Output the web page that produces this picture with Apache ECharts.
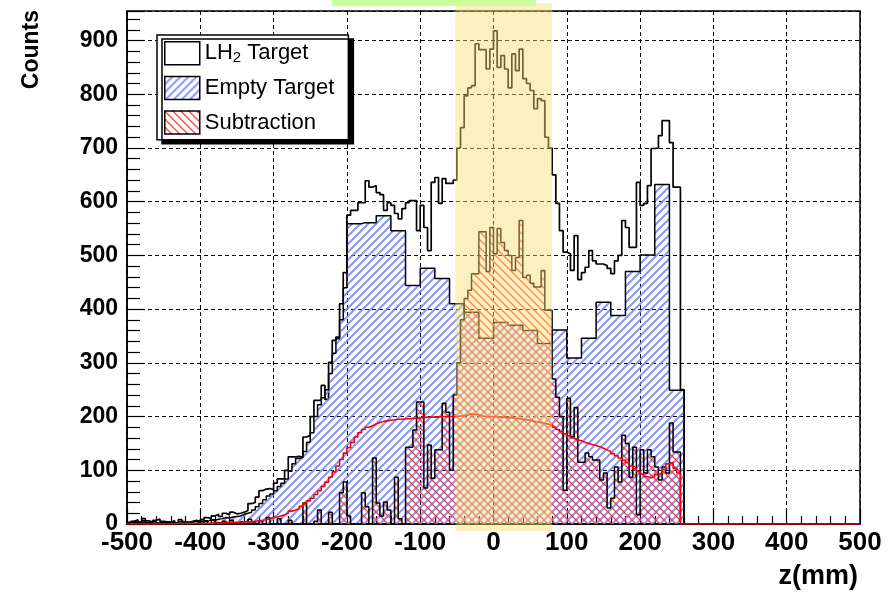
<!DOCTYPE html>
<html>
<head>
<meta charset="utf-8">
<script src="https://cdn.jsdelivr.net/npm/echarts@6/dist/echarts.min.js"></script>
<style>html,body{margin:0;padding:0;background:#fff}#c{width:889px;height:596px}</style>
</head>
<body>
<div id="c"></div>
<script>
// ---------- data (5 mm bins from -500 to 500 mm) ----------
const zMin = -500, zMax = 500, binWidth = 5;
const xTicks = [-500, -400, -300, -200, -100, 0, 100, 200, 300, 400, 500];
const seriesNames = ['LH2 Target', 'Empty Target', 'Subtraction'];

const lh2Counts = [
  3,5,8,4,10,6,3,7,9,5, 4,3,6,2,8,4,3,5,7,4,
  8,12,10,15,18,14,20,17,22,19, 20,22,25,38,40,50,62,65,66,64,
  76,84,84,100,125,125,126,124,162,165, 200,230,230,258,232,301,342,348,410,468,
  575,584,584,598,598,639,627,630,617,613, 584,598,593,578,568,587,598,602,602,546,
  593,552,509,636,645,597,643,634,634,640, 700,738,797,812,816,894,883,883,847,884,
  918,850,872,847,812,875,844,884,829,820, 807,773,792,788,720,700,650,597,546,506,
  503,472,537,455,468,478,509,490,484,484, 481,476,466,490,500,565,552,515,515,636,
  593,597,630,699,700,723,751,751,710,627, 627,250,0,0,0,0,0,0,0,0,
  0,0,0,0,0,0,0,0,0,0, 0,0,0,0,0,0,0,0,0,0,
  0,0,0,0,0,0,0,0,0,0, 0,0,0,0,0,0,0,0,0,0
];

const emptyCounts = [
  2,3,2,4,3,2,5,3,2,4, 3,4,2,3,5,4,3,4,5,4,
  6,5,8,7,9,10,12,11,13,14, 15,18,20,22,26,32,38,45,52,56,
  62,70,76,84,98,112,122,124,135,152, 170,200,222,235,250,280,318,345,380,440,
  559,559,559,559,561,561,561,561,574,574, 574,574,546,546,546,546,444,444,444,444,
  476,476,476,476,457,457,457,457,410,410, 410,410,394,394,394,394,346,346,346,346,
  375,375,375,375,370,370,370,370,360,360, 360,360,336,336,336,336,361,361,361,361,
  309,309,309,309,346,346,346,346,413,413, 413,413,388,388,388,388,470,470,470,470,
  501,501,501,501,632,632,632,632,249,249, 249,249,0,0,0,0,0,0,0,0,
  0,0,0,0,0,0,0,0,0,0, 0,0,0,0,0,0,0,0,0,0,
  0,0,0,0,0,0,0,0,0,0, 0,0,0,0,0,0,0,0,0,0
];

const subtractionCounts = [
  0,5,3,0,6,2,0,4,0,3, 0,2,5,0,0,4,0,2,0,3,
  0,6,0,8,3,0,5,0,7,0, 0,4,0,9,2,0,6,0,12,0,
  0,10,0,0,7,0,0,0,39,0, 0,5,26,0,0,22,0,0,58,78,
  15,0,0,0,58,32,0,123,39,15, 41,26,0,87,10,0,143,143,175,227,
  227,67,147,85,138,138,225,208,100,240, 300,380,420,435,466,466,544,544,470,552,
  503,550,524,509,500,472,496,565,459,463, 448,441,441,472,398,398,270,236,200,63,
  234,162,217,115,115,132,125,119,119,82, 95,30,48,106,78,165,150,87,143,17,
  138,95,138,125,106,82,106,95,188,134, 134,0,0,0,0,0,0,0,0,0,
  0,0,0,0,0,0,0,0,0,0, 0,0,0,0,0,0,0,0,0,0,
  0,0,0,0,0,0,0,0,0,0, 0,0,0,0,0,0,0,0,0,0
];

const curveCounts = [
  0,0,0,0,0,0,0,0,0,0, 0,0,1,1,1,1,1,1,1,1,
  1,1,2,2,2,2,3,3,3,3, 3,4,4,4,5,6,7,8,10,12,
  13,15,17,20,24,26,29,33,38,43, 48,55,62,70,78,87,97,108,120,132,
  142,152,162,170,176,180,183,186,189,191, 192,193,194,195,195,196,196,197,197,198,
  198,199,199,199,199,200,200,200,200,200, 201,201,203,205,204,203,201,200,200,200,
  200,199,199,198,198,197,196,195,194,193, 191,190,189,187,186,184,180,176,172,168,
  164,160,157,155,152,150,148,146,144,141, 138,135,131,127,123,119,114,108,103,98,
  93,88,86,88,92,95,102,112,115,104, 95,0,0,0,0,0,0,0,0,0,
  0,0,0,0,0,0,0,0,0,0, 0,0,0,0,0,0,0,0,0,0,
  0,0,0,0,0,0,0,0,0,0, 0,0,0,0,0,0,0,0,0,0
];

// highlighted z window
const bandStart = -52, bandEnd = 80;

// ---------- helpers ----------
function toSteps(counts) {
  const pts = counts.map((v, i) => [zMin + i * binWidth, v]);
  pts.push([zMax, counts[counts.length - 1]]);
  return pts;
}
function hatch(color, dir, lw, size) {
  const c = document.createElement('canvas');
  c.width = size; c.height = size;
  const g = c.getContext('2d');
  g.strokeStyle = color; g.lineWidth = lw; g.lineCap = 'square';
  g.beginPath();
  for (const k of [-size, 0, size]) {
    if (dir === '/') { g.moveTo(k, size); g.lineTo(k + size, 0); }
    else { g.moveTo(k, 0); g.lineTo(k + size, size); }
  }
  g.stroke();
  return c;
}
const bluePat = { image: hatch('rgba(120,130,242,0.85)', '/', 2.0, 8), repeat: 'repeat' };
const redPat = { image: hatch('rgba(255,50,50,0.95)', '\\', 1.3, 8), repeat: 'repeat' };

const FONT = 'Liberation Sans, Arial, Helvetica, sans-serif';
const chart = echarts.init(document.getElementById('c'), null, { renderer: 'canvas' });

const option = {
  animation: false,
  backgroundColor: '#fff',
  grid: { left: 127, right: 29, top: 11, bottom: 72, show: true, borderColor: '#000', borderWidth: 1.5, backgroundColor: 'transparent' },
  legend: {
    orient: 'vertical', left: 157, top: 35,
    padding: [6, 14, 5, 7], itemWidth: 35, itemHeight: 23, itemGap: 10,
    backgroundColor: '#fff', borderColor: '#000', borderWidth: 1.5,
    shadowColor: '#000', shadowOffsetX: 5, shadowOffsetY: 4, shadowBlur: 0,
    selectedMode: false,
    textStyle: { fontFamily: FONT, fontSize: 22, color: '#000',
      rich: { sub: { fontFamily: FONT, fontSize: 15, color: '#000', verticalAlign: 'bottom', padding: [10, 0, 0, 0] } } },
    formatter: n => n === 'LH2 Target' ? 'LH{sub|2} Target' : n,
    data: [
      { name: seriesNames[0], icon: 'rect', itemStyle: { color: '#fff', borderColor: '#000', borderWidth: 1.5 } },
      { name: seriesNames[1], icon: 'rect', itemStyle: { color: bluePat, borderColor: '#000', borderWidth: 1.5 } },
      { name: seriesNames[2], icon: 'rect', itemStyle: { color: redPat, borderColor: '#000', borderWidth: 1.5 } }
    ]
  },
  xAxis: {
    type: 'value', min: zMin, max: zMax, interval: 100,
    name: 'z(mm)', nameLocation: 'end', nameGap: -2,
    nameTextStyle: { fontFamily: FONT, fontWeight: 'bold', fontSize: 27, color: '#000', align: 'right', verticalAlign: 'top', padding: [39, 0, 0, 0] },
    axisLine: { show: true, onZero: false, lineStyle: { color: '#000', width: 1.5 } },
    axisTick: { show: true, inside: true, length: 15, lineStyle: { color: '#000', width: 1.2 } },
    minorTick: { show: true, splitNumber: 5, length: 8, lineStyle: { color: '#000', width: 1.2 } },
    axisLabel: { color: '#000', fontFamily: FONT, fontWeight: 'bold', fontSize: 26, margin: 6,
      customValues: xTicks, formatter: v => String(v) },
    splitLine: { show: true, lineStyle: { color: '#000', width: 1, type: [4, 3] } }
  },
  yAxis: {
    type: 'value', min: 0, max: 955, interval: 100,
    name: 'Counts', nameLocation: 'end', nameRotate: 90, nameGap: 1,
    nameTextStyle: { fontFamily: FONT, fontWeight: 'bold', fontSize: 23, color: '#000', align: 'right', verticalAlign: 'bottom', padding: [0, 0, 84, 0] },
    axisLine: { show: true, onZero: false, lineStyle: { color: '#000', width: 1.5 } },
    axisTick: { show: true, inside: true, length: 18, lineStyle: { color: '#000', width: 1.2 } },
    minorTick: { show: true, splitNumber: 5, length: 13, lineStyle: { color: '#000', width: 1.2 } },
    axisLabel: { color: '#000', fontFamily: FONT, fontWeight: 'bold', fontSize: 23, margin: 9, showMaxLabel: false },
    splitLine: { show: true, lineStyle: { color: '#000', width: 1, type: [4, 3] } }
  },
  series: [
    { name: seriesNames[0], type: 'line', step: 'end', data: toSteps(lh2Counts), symbol: 'none', silent: true, z: 3,
      lineStyle: { color: '#000', width: 1.7 }, itemStyle: { color: '#fff' } },
    { name: seriesNames[1], type: 'line', step: 'end', data: toSteps(emptyCounts), symbol: 'none', silent: true, z: 4,
      lineStyle: { color: '#000', width: 1.5 }, itemStyle: { color: '#7882f2' }, areaStyle: { color: bluePat, opacity: 1 } },
    { name: seriesNames[2], type: 'line', step: 'end', data: toSteps(subtractionCounts), symbol: 'none', silent: true, z: 5,
      lineStyle: { color: '#000', width: 1.5 }, itemStyle: { color: '#ff3232' }, areaStyle: { color: redPat, opacity: 1 } },
    { name: 'curve', type: 'line', step: 'end', data: toSteps(curveCounts), symbol: 'none', silent: true, z: 6,
      lineStyle: { color: '#ff0000', width: 1.6 } }
  ]
};
chart.setOption(option);

const bx0 = chart.convertToPixel({ xAxisIndex: 0 }, bandStart);
const bx1 = chart.convertToPixel({ xAxisIndex: 0 }, bandEnd);
chart.setOption({
  graphic: [
    { type: 'rect', silent: true, z: 100, shape: { x: bx0, y: 3, width: bx1 - bx0, height: 528 },
      style: { fill: 'rgba(247,221,110,0.45)' } },
    { type: 'rect', silent: true, z: 100, shape: { x: 332, y: 0, width: 204, height: 6 },
      style: { fill: '#ccff99' } }
  ]
});
</script>
</body>
</html>
